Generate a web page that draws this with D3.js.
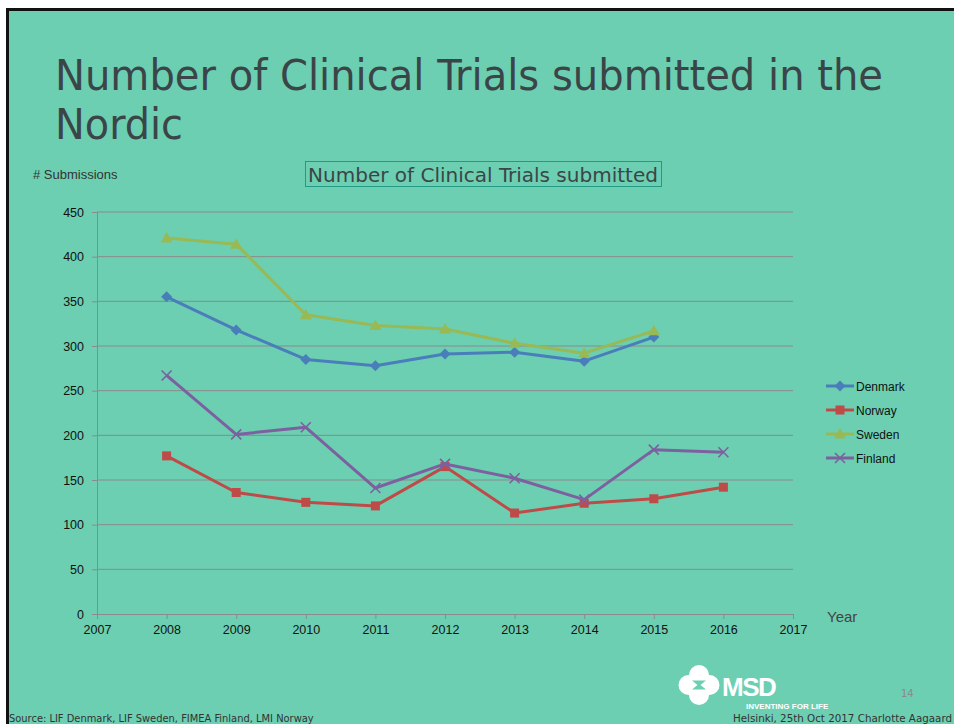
<!DOCTYPE html>
<html>
<head>
<meta charset="utf-8">
<script src="https://cdn.jsdelivr.net/npm/d3@7"></script>
<style>
  body { margin: 0; background: #fff; }
  svg { display: block; }
</style>
</head>
<body>
<svg id="slide" width="954" height="724"></svg>
<script>
const years = [2008, 2009, 2010, 2011, 2012, 2013, 2014, 2015, 2016];
const denmark = [355, 318, 285, 278, 291, 293, 283, 310, null];
const norway = [177, 136, 125, 121, 165, 113, 124, 129, 142];
const sweden = [421, 414, 335, 323, 319, 303, 292, 317, null];
const finland = [267, 201, 209, 141, 168, 152, 128, 184, 181];
const yTicks = [0, 50, 100, 150, 200, 250, 300, 350, 400, 450];
const xTicks = [2007, 2008, 2009, 2010, 2011, 2012, 2013, 2014, 2015, 2016, 2017];

const series = [
  { name: "Denmark", values: denmark, color: "#4a7ebb", marker: "diamond" },
  { name: "Norway", values: norway, color: "#be4b48", marker: "square" },
  { name: "Sweden", values: sweden, color: "#98b954", marker: "triangle" },
  { name: "Finland", values: finland, color: "#7d60a0", marker: "cross" },
];

const svg = d3.select("#slide");
const font = "'DejaVu Sans Condensed', 'DejaVu Sans', sans-serif";
const textFont = "'Liberation Sans', Arial, sans-serif";

// slide background and frame
svg.append("rect").attr("x", 6).attr("y", 8).attr("width", 948).attr("height", 716)
  .attr("fill", "#6ccfb2");
svg.append("line").attr("x1", 6).attr("x2", 954).attr("y1", 9.5).attr("y2", 9.5)
  .attr("stroke", "#111").attr("stroke-width", 3);
svg.append("line").attr("x1", 7.5).attr("x2", 7.5).attr("y1", 8).attr("y2", 724)
  .attr("stroke", "#111").attr("stroke-width", 3);

// slide title
const title = svg.append("text").attr("font-family", font).attr("font-size", 42)
  .attr("fill", "#3b4547");
title.append("tspan").attr("x", 55).attr("y", 90).text("Number of Clinical Trials submitted in the")
  .attr("textLength", 828).attr("lengthAdjust", "spacingAndGlyphs");
title.append("tspan").attr("x", 55).attr("y", 139).text("Nordic")
  .attr("textLength", 128).attr("lengthAdjust", "spacingAndGlyphs");

// chart
const x = d3.scaleLinear().domain([2007, 2017]).range([97, 793]);
const y = d3.scaleLinear().domain([0, 450]).range([614, 212]);

svg.append("g").selectAll("line").data(yTicks.filter(d => d > 0)).join("line")
  .attr("x1", x(2007)).attr("x2", x(2017))
  .attr("y1", d => y(d)).attr("y2", d => y(d))
  .attr("stroke", "#8a8a8a").attr("stroke-width", 1);

const yAxis = svg.append("g").attr("transform", `translate(${x(2007)},0)`)
  .call(d3.axisLeft(y).tickValues(yTicks).tickSize(5).tickPadding(8));
const xAxis = svg.append("g").attr("transform", `translate(0,${y(0)})`)
  .call(d3.axisBottom(x).tickValues(xTicks).tickFormat(d3.format("d")).tickSize(5).tickPadding(6));
[yAxis, xAxis].forEach(a => {
  a.select(".domain").attr("stroke", "#8a8a8a");
  a.selectAll(".tick line").attr("stroke", "#8a8a8a");
  a.selectAll("text").attr("font-family", textFont).attr("font-size", 12.5).attr("fill", "#111");
});

svg.append("text").attr("x", 33).attr("y", 179).text("# Submissions")
  .attr("font-family", textFont).attr("font-size", 13).attr("fill", "#333");
svg.append("text").attr("x", 827).attr("y", 622).text("Year")
  .attr("font-family", textFont).attr("font-size", 15).attr("fill", "#444");

svg.append("rect").attr("x", 305.5).attr("y", 161.5).attr("width", 356).attr("height", 25)
  .attr("fill", "none").attr("stroke", "#249a85").attr("stroke-width", 1);
svg.append("text").attr("x", 483).attr("y", 182).attr("text-anchor", "middle")
  .text("Number of Clinical Trials submitted")
  .attr("font-family", font).attr("font-size", 20).attr("fill", "#3b4547")
  .attr("textLength", 350).attr("lengthAdjust", "spacingAndGlyphs");

function drawMarker(g, type, color) {
  if (type === "diamond") {
    g.append("path").attr("d", "M0,-5.5L5.5,0L0,5.5L-5.5,0Z").attr("fill", color);
  } else if (type === "square") {
    g.append("rect").attr("x", -4.5).attr("y", -4.5).attr("width", 9).attr("height", 9).attr("fill", color);
  } else if (type === "triangle") {
    g.append("path").attr("d", "M0,-6L6,4.5L-6,4.5Z").attr("fill", color);
  } else {
    g.append("path").attr("d", "M-5,-5L5,5M-5,5L5,-5").attr("stroke", color).attr("stroke-width", 1.6);
  }
}

const line = d3.line().defined(d => d.v != null).x(d => x(d.year)).y(d => y(d.v));
series.forEach(s => {
  const pts = years.map((yr, i) => ({ year: yr, v: s.values[i] }));
  svg.append("path").datum(pts).attr("d", line).attr("fill", "none")
    .attr("stroke", s.color).attr("stroke-width", 3).attr("stroke-linejoin", "round");
  pts.filter(p => p.v != null).forEach(p => {
    drawMarker(svg.append("g").attr("transform", `translate(${x(p.year)},${y(p.v)})`), s.marker, s.color);
  });
});

// legend
const legend = svg.append("g").attr("transform", "translate(826,386)");
series.forEach((s, i) => {
  const g = legend.append("g").attr("transform", `translate(0,${i * 24})`);
  g.append("line").attr("x1", 0).attr("x2", 28).attr("stroke", s.color).attr("stroke-width", 3);
  drawMarker(g.append("g").attr("transform", "translate(14,0)"), s.marker, s.color);
  g.append("text").attr("x", 30).attr("y", 4.5).text(s.name)
    .attr("font-family", textFont).attr("font-size", 12).attr("fill", "#111");
});

// footer
svg.append("text").attr("x", 9).attr("y", 722).text("Source: LIF Denmark, LIF Sweden, FIMEA Finland, LMI Norway")
  .attr("font-family", font).attr("font-size", 11).attr("fill", "#333");
svg.append("text").attr("x", 733).attr("y", 722).text("Helsinki, 25th Oct 2017 Charlotte Aagaard")
  .attr("font-family", font).attr("font-size", 11).attr("fill", "#333")
  .attr("textLength", 219).attr("lengthAdjust", "spacingAndGlyphs");
svg.append("text").attr("x", 901).attr("y", 697).text("14")
  .attr("font-family", font).attr("font-size", 11).attr("fill", "#8a8a8a");

// MSD logo
const logo = svg.append("g").attr("transform", "translate(699,685)").attr("fill", "#fff");
[[-10.5, 0], [10.5, 0], [0, -10], [0, 10]].forEach(([cx, cy]) =>
  logo.append("circle").attr("cx", cx).attr("cy", cy).attr("r", 10));
logo.append("path").attr("d", "M-7,-4.5L7,-4.5L1.5,0L7,4.5L-7,4.5L-1.5,0Z").attr("fill", "#6ccfb2");
svg.append("text").attr("x", 722).attr("y", 696).text("MSD")
  .attr("font-family", "'Liberation Sans', sans-serif").attr("font-weight", "bold")
  .attr("font-size", 26).attr("fill", "#fff").attr("letter-spacing", -1.5);
svg.append("text").attr("x", 746).attr("y", 709).text("INVENTING FOR LIFE")
  .attr("font-family", "'Liberation Sans', sans-serif").attr("font-weight", "bold")
  .attr("font-size", 8).attr("fill", "#fff");
</script>
</body>
</html>
